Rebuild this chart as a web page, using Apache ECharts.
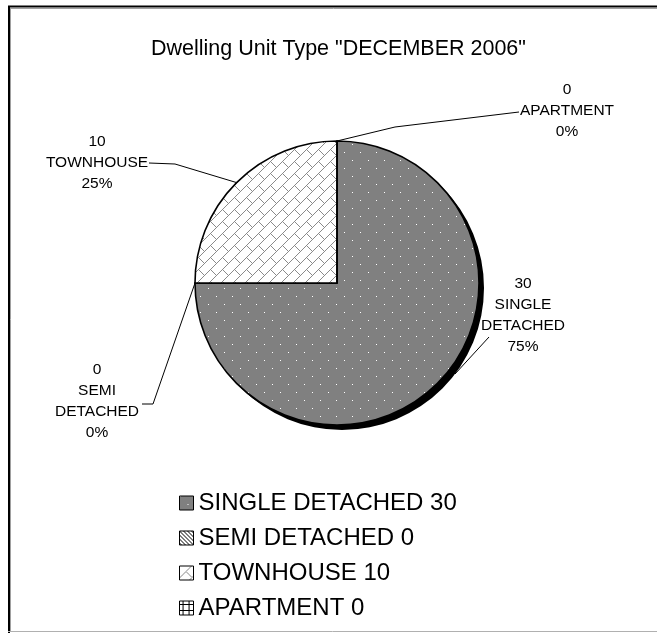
<!DOCTYPE html>
<html><head><meta charset="utf-8">
<script src="https://cdn.jsdelivr.net/npm/echarts@6/dist/echarts.min.js"></script>
<style>html,body{margin:0;padding:0;background:#fff}#c{width:657px;height:633px}</style>
</head><body><div id="c"></div>
<script>
// ---- data ----
const categories = ['SINGLE DETACHED', 'SEMI DETACHED', 'TOWNHOUSE', 'APARTMENT'];
const values = [30, 0, 10, 0];
const titleText = 'Dwelling Unit Type "DECEMBER 2006"';

// ---- styles ----
function makePattern(w, h, bg, draw) {
  const c = document.createElement('canvas');
  c.width = w; c.height = h;
  const g = c.getContext('2d');
  g.fillStyle = bg; g.fillRect(0, 0, w, h);
  draw(g);
  return { image: c, repeat: 'repeat' };
}
const dots = makePattern(16, 16, '#808080', g => { g.fillStyle = '#fff'; g.fillRect(0, 0, 1, 1); g.fillRect(8, 8, 1, 1); });
const brick = makePattern(12, 12, '#fff', g => {
  g.fillStyle = '#8a8a8a';
  for (let i = 0; i < 12; i++) g.fillRect(11 - i, i, 1, 1);
  for (let k = 7; k <= 11; k++) g.fillRect(k, k - 1, 1, 1);
});
const diag = makePattern(4, 4, '#fff', g => { g.fillStyle = '#000'; for (let i = 0; i < 4; i++) g.fillRect(i, i, 1, 1); });
const grid = makePattern(6, 6, '#fff', g => { g.fillStyle = '#000'; g.fillRect(0, 3, 6, 1); g.fillRect(3, 0, 1, 6); });
const fills = [dots, diag, brick, grid];

const pieCenter = [337, 283];
const shadowCenter = [342, 288];
const pieRadius = 142;
// label placement (layout only)
const labelPlace = [
  { x: 523, y: 315, start: [455, 374], line: [[489, 337], [489, 337]] },
  { x: 97, y: 401, start: null, line: [[153, 404], [142, 404]] },
  { x: 97, y: 163, start: null, line: [[175, 164], [149, 163]] },
  { x: 567, y: 111, start: null, line: [[395, 127], [519, 112]] }
];

const chart = echarts.init(document.getElementById('c'), null, { renderer: 'canvas' });
chart.setOption({
  animation: false,
  backgroundColor: '#fff',
  title: {
    text: titleText, left: 146, top: 33,
    textStyle: { fontFamily: 'Arial, Liberation Sans', fontSize: 21.5, fontWeight: 'normal', color: '#000' }
  },
  legend: {
    orient: 'vertical', left: 174, top: 486,
    itemWidth: 14, itemHeight: 14, itemGap: 11, icon: 'rect',
    itemStyle: { borderColor: '#000', borderWidth: 1 },
    textStyle: { fontFamily: 'Arial, Liberation Sans', fontSize: 24, color: '#000' },
    formatter: name => name + ' ' + values[categories.indexOf(name)],
    data: categories
  },
  graphic: [
    { type: 'line', shape: { x1: 9, y1: 6, x2: 9, y2: 633 }, style: { stroke: '#000', lineWidth: 2 } },
    { type: 'line', shape: { x1: 8, y1: 6.5, x2: 657, y2: 6.5 }, style: { stroke: '#000', lineWidth: 2 } },
    { type: 'line', shape: { x1: 10.5, y1: 8, x2: 10.5, y2: 631 }, style: { stroke: '#a0a0a0', lineWidth: 1 } },
    { type: 'line', shape: { x1: 10, y1: 8.5, x2: 657, y2: 8.5 }, style: { stroke: '#a0a0a0', lineWidth: 1 } },
    { type: 'line', shape: { x1: 8, y1: 631.5, x2: 657, y2: 631.5 }, style: { stroke: '#b0b0b0', lineWidth: 1 } }
  ],
  series: [{
    type: 'pie',
    z: 2,
    center: pieCenter,
    radius: pieRadius,
    startAngle: 90,
    clockwise: true,
    avoidLabelOverlap: false,
    silent: true,
    data: categories.map((n, i) => ({ name: n, value: values[i], itemStyle: { color: fills[i] } })),
    itemStyle: { borderColor: '#000', borderWidth: 1.6 },
    label: {
      show: true, position: 'outer',
      fontFamily: 'Arial, Liberation Sans', fontSize: 15.5, lineHeight: 21, color: '#000',
      formatter: p => p.value + '\n' + p.name.replace(' ', '\n') + '\n' + p.percent + '%'
    },
    labelLine: { show: true, length: 20, length2: 20, lineStyle: { color: '#000', width: 1 } },
    labelLayout: function (params) {
      const p = labelPlace[params.dataIndex];
      const s = p.start || (params.labelLinePoints ? params.labelLinePoints[0] : pieCenter);
      return { x: p.x, y: p.y, align: 'center', verticalAlign: 'middle', labelLinePoints: [s, p.line[0], p.line[1]] };
    }
  }, {
    // drop shadow of the pie, drawn from the same values
    type: 'pie',
    z: 1,
    center: shadowCenter,
    radius: pieRadius,
    startAngle: 90,
    silent: true,
    legendHoverLink: false,
    data: categories.map((n, i) => ({ name: n + ' ', value: values[i] })),
    itemStyle: { color: '#000', borderWidth: 0 },
    label: { show: false },
    labelLine: { show: false }
  }]
});
</script>
</body></html>
